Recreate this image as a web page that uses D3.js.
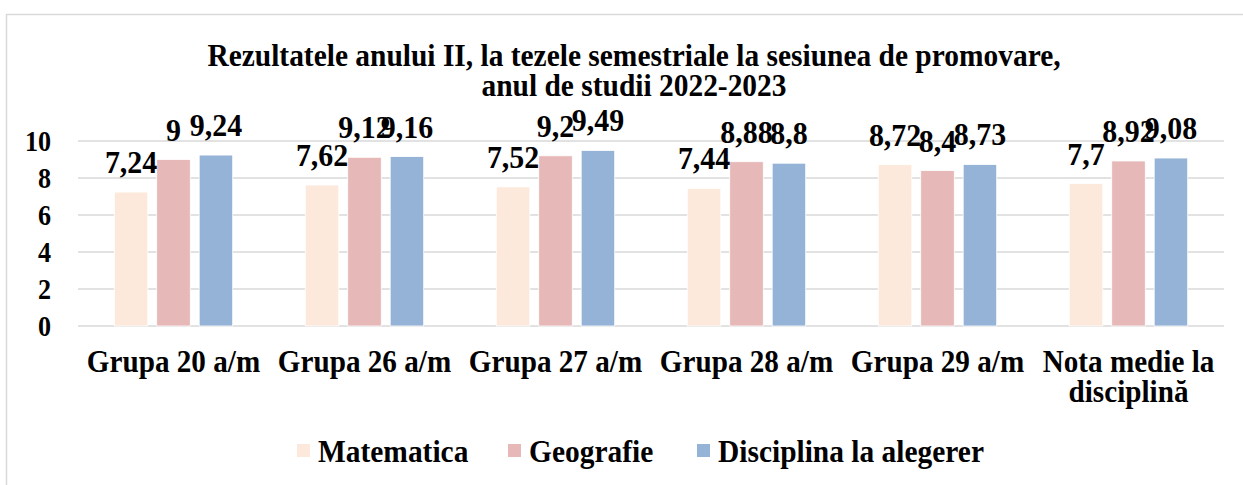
<!DOCTYPE html>
<html><head><meta charset="utf-8">
<script src="https://cdn.jsdelivr.net/npm/d3@7"></script>
<style>html,body{margin:0;padding:0;background:#fff;}svg{display:block;}
svg text{font-family:"Liberation Serif","Times New Roman",Times,"DejaVu Serif",serif;font-weight:bold;}</style>
</head><body>
<svg id="chart" width="1243" height="485"></svg>
<script>
const categories = [["Grupa 20 a/m"],["Grupa 26 a/m"],["Grupa 27 a/m"],["Grupa 28 a/m"],["Grupa 29 a/m"],["Nota medie la","disciplină"]];
const seriesNames = ["Matematica","Geografie","Disciplina la alegerer"];
const matematica = [7.24, 7.62, 7.52, 7.44, 8.72, 7.7];
const geografie = [9, 9.12, 9.2, 8.88, 8.4, 8.92];
const disciplina = [9.24, 9.16, 9.49, 8.8, 8.73, 9.08];
const yTicks = [0, 2, 4, 6, 8, 10];
const titleLines = ["Rezultatele anului II, la tezele semestriale la sesiunea de promovare,", "anul de studii 2022-2023"];
const colors = ["#FCE9DB", "#E6B8B7", "#95B3D7"];

const series = [matematica, geografie, disciplina];
const svg = d3.select("#chart");
function txt(g, x, y, s, size, anchor, sx) {
  return g.append("text")
    .attr("transform", `translate(${x},${y}) scale(${sx || 0.95},1)`)
    .attr("text-anchor", anchor || "middle")
    .attr("font-size", size).attr("fill", "#000").text(s);
}

// frame
svg.append("rect").attr("x", 6.5).attr("y", 14.5).attr("width", 1260).attr("height", 500)
  .attr("fill", "#fff").attr("stroke", "#d9d9d9").attr("stroke-width", 1.5);

const pLeft = 78, pRight = 1224, pTop = 141, pBottom = 326;
const x0 = d3.scaleBand().domain(d3.range(categories.length)).range([pLeft, pRight]).padding(0);
const bw = x0.bandwidth();
const x1 = d3.scaleBand().domain(d3.range(series.length)).range([bw * 0.19, bw * 0.81]).paddingInner(0.21);
const y = d3.scaleLinear().domain([0, 10]).range([pBottom, pTop]);

// gridlines
svg.append("g").selectAll("line").data(yTicks).join("line")
  .attr("x1", pLeft).attr("x2", pRight)
  .attr("y1", d => y(d)).attr("y2", d => y(d))
  .attr("stroke", "#d9d9d9").attr("stroke-width", 1.5);

// tick labels
const tg = svg.append("g");
yTicks.forEach(t => txt(tg, 51, y(t) + 10, String(t), 29, "end", 0.9));

// bars
const bars = svg.append("g");
series.forEach((vals, si) => {
  bars.selectAll(null).data(vals).join("rect")
    .attr("x", (d, i) => x0(i) + x1(si))
    .attr("y", d => y(d))
    .attr("width", x1.bandwidth())
    .attr("height", d => y(0) - y(d))
    .attr("fill", colors[si])
    .attr("stroke", "#fff").attr("stroke-width", 0.8);
});

// data labels
const lg = svg.append("g");
series.forEach((vals, si) => {
  vals.forEach((v, i) => {
    txt(lg, x0(i) + x1(si) + x1.bandwidth() / 2, y(v) - 19, String(v).replace(".", ","), 31.5);
  });
});

// category labels
const cg = svg.append("g");
categories.forEach((lines, i) => {
  lines.forEach((l, k) => txt(cg, x0(i) + bw / 2, 372 + k * 30, l, 30.7));
});

// title
const ttl = svg.append("g");
titleLines.forEach((l, k) => txt(ttl, 634, 66 + k * 30, l, 31));

// legend
const legendX = [297, 508, 697];
const leg = svg.append("g");
seriesNames.forEach((n, i) => {
  leg.append("rect").attr("x", legendX[i]).attr("y", 444).attr("width", 13).attr("height", 13).attr("fill", colors[i]);
  txt(leg, legendX[i] + 21, 462, n, 31, "start");
});
</script>
</body></html>
